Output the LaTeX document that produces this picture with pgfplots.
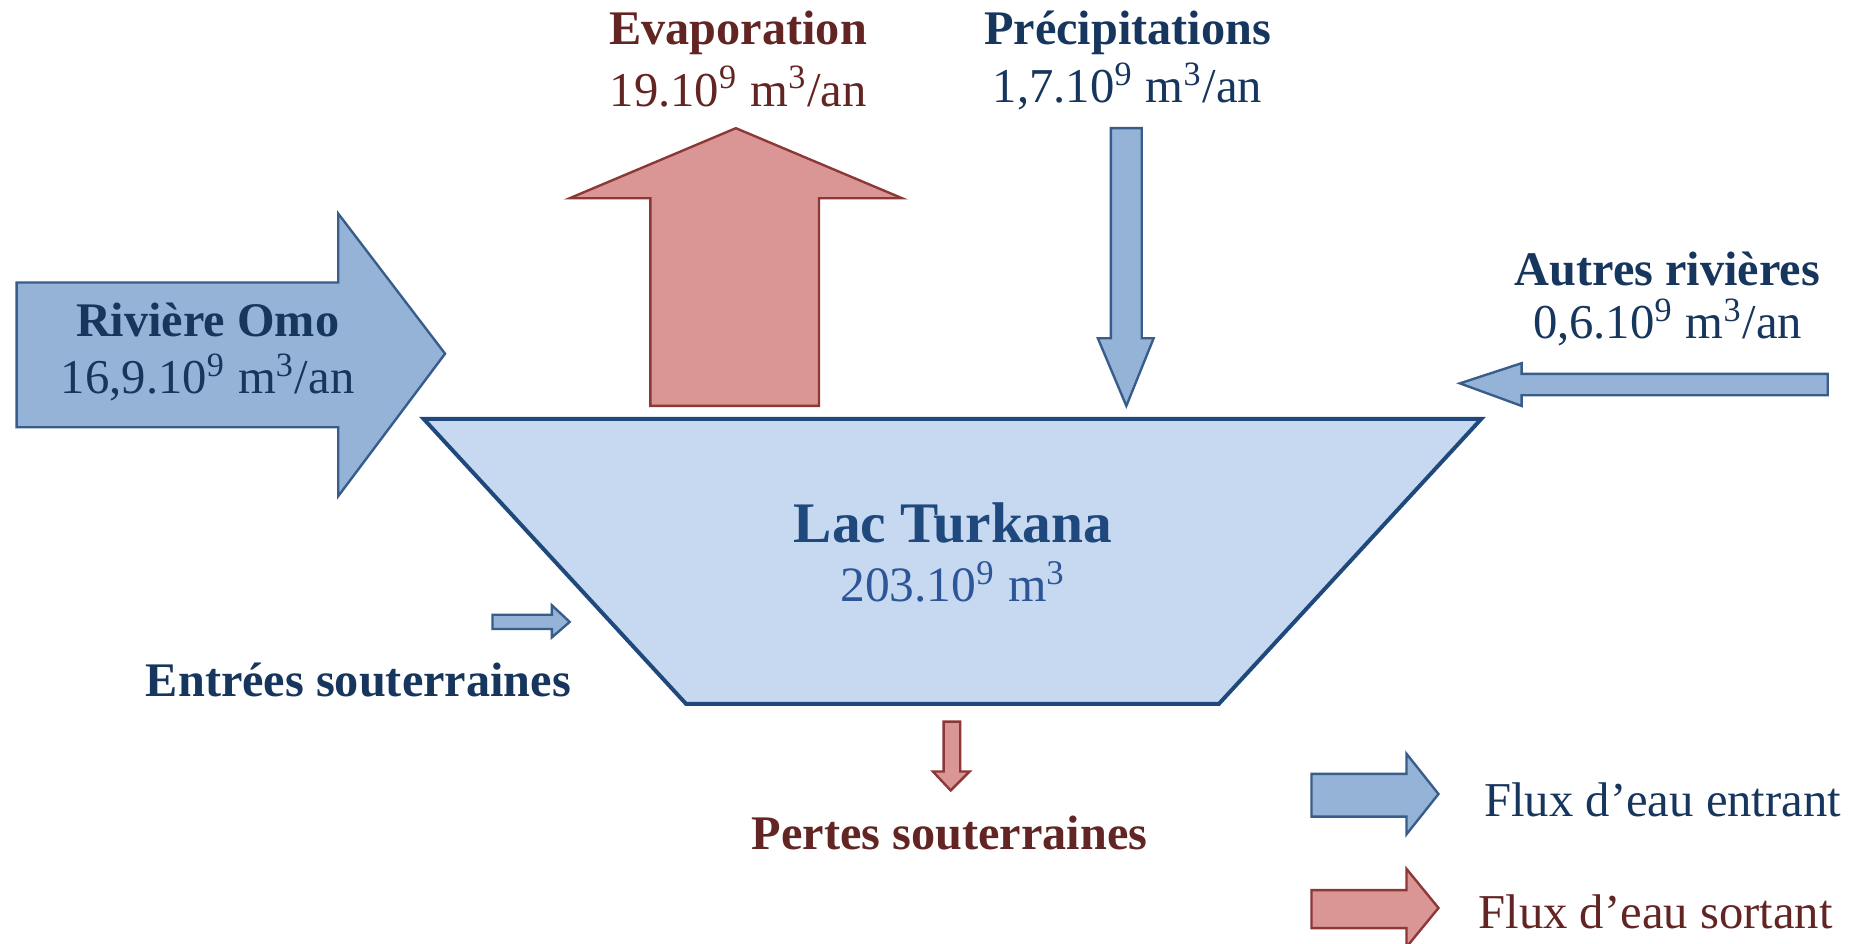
\documentclass[border=0pt]{standalone}
\usepackage{pgfplots}
\pgfplotsset{compat=1.18}
\usepackage{fontspec}
\setmainfont{Liberation Serif}
\definecolor{bluefill}{HTML}{95B3D7}
\definecolor{bluedraw}{HTML}{385D8A}
\definecolor{redfill}{HTML}{D99694}
\definecolor{reddraw}{HTML}{8C3836}
\definecolor{lakefill}{HTML}{C6D9F1}
\definecolor{lakedraw}{HTML}{1F497D}
\definecolor{txtblue}{HTML}{17365D}
\definecolor{txtred}{HTML}{632523}
\definecolor{laketxt}{HTML}{1F497D}
\definecolor{laketxt2}{HTML}{2E5597}
\tikzset{
  lbl/.style={font=\fontsize{12.2}{14}\selectfont\bfseries, anchor=center, inner sep=0pt},
  val/.style={font=\fontsize{12.3}{14}\selectfont, anchor=center, inner sep=0pt}}
\begin{document}
\begin{tikzpicture}
\begin{axis}[x=0.3pt, y=0.3pt, y dir=reverse, xmin=0, xmax=1568, ymin=0, ymax=795,
  hide axis, clip=true]
% background
\addplot[draw=none, fill=white] coordinates {(0,0) (1568,0) (1568,795) (0,795)} -- cycle;
% Riviere Omo arrow
\addplot[fill=bluefill, draw=bluedraw, line width=0.6pt] coordinates {(14,238) (285,238) (285,180) (375,298) (285,418) (285,360) (14,360)} -- cycle;
% Evaporation arrow
\addplot[fill=redfill, draw=reddraw, line width=0.6pt] coordinates {(548,342) (548,167) (480,167) (620,108) (760,167) (690,167) (690,342)} -- cycle;
% Precipitation arrow
\addplot[fill=bluefill, draw=bluedraw, line width=0.6pt] coordinates {(936,108) (962,108) (962,285) (972,285) (949,342) (925,285) (936,285)} -- cycle;
% Autres rivieres arrow
\addplot[fill=bluefill, draw=bluedraw, line width=0.6pt] coordinates {(1540,315) (1540,333) (1282,333) (1282,342) (1230,323) (1282,306) (1282,315)} -- cycle;
% Lake trapezoid
\addplot[fill=lakefill, draw=lakedraw, line width=1pt] coordinates {(357,353) (1248,353) (1027,593) (578,593)} -- cycle;
% Entrees souterraines arrow
\addplot[fill=bluefill, draw=bluedraw, line width=0.6pt] coordinates {(415,518) (465,518) (465,510) (480,524) (465,537) (465,530) (415,530)} -- cycle;
% Pertes souterraines arrow
\addplot[fill=redfill, draw=reddraw, line width=0.6pt] coordinates {(795,608) (809,608) (809,650) (817,650) (801,666) (786,650) (795,650)} -- cycle;
% Legend arrows
\addplot[fill=bluefill, draw=bluedraw, line width=0.6pt] coordinates {(1105,652) (1185,652) (1185,635) (1212,669) (1185,703) (1185,688) (1105,688)} -- cycle;
\addplot[fill=redfill, draw=reddraw, line width=0.6pt] coordinates {(1105,750) (1185,750) (1185,732) (1212,765) (1185,798) (1185,782) (1105,782)} -- cycle;
% Texts
\node[lbl, text=txtred] at (axis cs:622,28) {Evaporation};
\node[val, text=txtred] at (axis cs:622,73) {19.10\textsuperscript{9} m\textsuperscript{3}/an};
\node[lbl, text=txtblue] at (axis cs:950,28) {Précipitations};
\node[val, text=txtblue] at (axis cs:950,73) {1,7.10\textsuperscript{9} m\textsuperscript{3}/an};
\node[lbl, text=txtblue] at (axis cs:1405,227) {Autres rivières};
\node[val, text=txtblue] at (axis cs:1405,272) {0,6.10\textsuperscript{9} m\textsuperscript{3}/an};
\node[lbl, text=txtblue] at (axis cs:175,270) {Rivière Omo};
\node[val, text=txtblue] at (axis cs:175,318) {16,9.10\textsuperscript{9} m\textsuperscript{3}/an};
\node[font=\fontsize{14.5}{16}\selectfont\bfseries, text=laketxt, inner sep=0pt] at (axis cs:803,441) {Lac Turkana};
\node[font=\fontsize{12.5}{14}\selectfont, text=laketxt2, inner sep=0pt] at (axis cs:803,490) {203.10\textsuperscript{9} m\textsuperscript{3}};
\node[lbl, text=txtblue] at (axis cs:302,573) {Entrées souterraines};
\node[lbl, text=txtred] at (axis cs:800,702) {Pertes souterraines};
\node[val, text=txtblue, anchor=west] at (axis cs:1250,674) {Flux d’eau entrant};
\node[val, text=txtred, anchor=west] at (axis cs:1245,768) {Flux d’eau sortant};
\end{axis}
\end{tikzpicture}
\end{document}
